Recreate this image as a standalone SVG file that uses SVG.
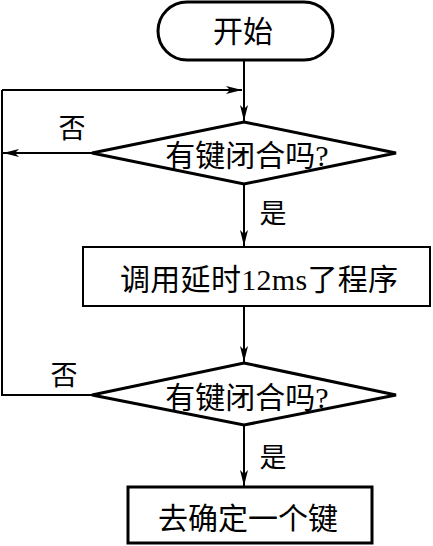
<svg xmlns="http://www.w3.org/2000/svg" width="433" height="546" viewBox="0 0 433 546">
<style>
.node{fill:#fff;stroke:#000;stroke-width:3}
.thin{stroke-width:2}
.t{font-family:"Liberation Serif","Noto Sans CJK SC",serif;font-size:30px;fill:#000;text-anchor:middle;dominant-baseline:central}
.lbl{font-family:"Liberation Serif","Noto Sans CJK SC",serif;font-size:27px;fill:#000;text-anchor:middle;dominant-baseline:central}
.c{fill:none;stroke:#000;stroke-width:2}
</style>
<defs>
<marker id="a" viewBox="0 0 16 8" refX="16" refY="4" markerWidth="16" markerHeight="8" markerUnits="userSpaceOnUse" orient="auto">
<path d="M0,0 L16,4 L0,8 L4,4 Z" fill="#000"/>
</marker>
</defs>
<rect width="433" height="546" fill="#fff"/>
<g id="connectors">
<path class="c" d="M244,60 V121" marker-end="url(#a)"/>
<path class="c" d="M2,90 H242" marker-end="url(#a)"/>
<path class="c" d="M92,153 H3" marker-end="url(#a)"/>
<path class="c" d="M244,184 V246" marker-end="url(#a)"/>
<path class="c" d="M244,306 V362" marker-end="url(#a)"/>
<path class="c" d="M92,395 H2 V90"/>
<path class="c" d="M244,425 V486" marker-end="url(#a)"/>
<text class="lbl" x="72" y="129">否</text>
<text class="lbl" x="273" y="214">是</text>
<text class="lbl" x="64" y="376">否</text>
<text class="lbl" x="273" y="458">是</text>
</g>
<g id="start">
<rect class="node" x="158" y="2" width="175" height="58" rx="29"/>
<text class="t" x="243" y="31">开始</text>
</g>
<g id="decision1">
<polygon class="node" points="244,122 396,153 244,184 92,153"/>
<text class="t" x="247" y="155">有键闭合吗?</text>
</g>
<g id="delay">
<rect class="node thin" x="83" y="247" width="347" height="59"/>
<text class="t" x="259" y="279" textLength="278" lengthAdjust="spacing">调用延时12ms了程序</text>
</g>
<g id="decision2">
<polygon class="node" points="244,363 396,395 244,425 92,395"/>
<text class="t" x="247" y="397">有键闭合吗?</text>
</g>
<g id="confirm">
<rect class="node" x="128" y="487" width="244" height="56"/>
<text class="t" x="248" y="518">去确定一个键</text>
</g>
</svg>
